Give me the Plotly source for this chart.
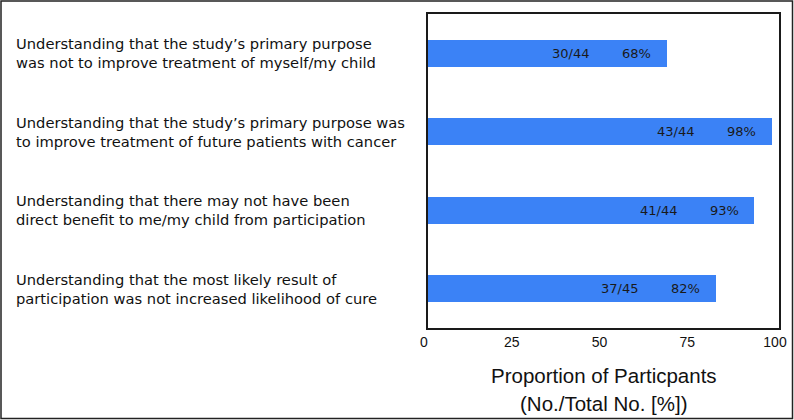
import plotly.graph_objects as go

categories = [
    "Understanding that the study’s primary purpose<br>was not to improve treatment of myself/my child",
    "Understanding that the study’s primary purpose was<br>to improve treatment of future patients with cancer",
    "Understanding that there may not have been<br>direct benefit to me/my child from participation",
    "Understanding that the most likely result of<br>participation was not increased likelihood of cure",
]
counts = ["30/44", "43/44", "41/44", "37/45"]
percents = [68, 98, 93, 82]
pct_labels = ["68%", "98%", "93%", "82%"]
x_ticks = [0, 25, 50, 75, 100]
x_title = ["Proportion of Particpants", "(No./Total No. [%])"]

W, H = 794, 420
L, R, T, B = 428, 15, 14, 92
PW = W - L - R
PH = H - T - B

BAR = "#3b82f6"
FONT = "Liberation Sans, Arial, Helvetica, sans-serif"
WIDE = "DejaVu Sans, Verdana, sans-serif"

fig = go.Figure()
fig.add_trace(go.Bar(
    y=categories, x=percents, orientation="h",
    marker=dict(color=BAR, line=dict(width=0)),
    width=0.35, hoverinfo="skip",
))

annotations = []
for cat, c, p, pl in zip(categories, counts, percents, pct_labels):
    annotations.append(dict(x=p, y=cat, xref="x", yref="y", text=c, showarrow=False,
                            xanchor="center", yanchor="middle", xshift=-96,
                            font=dict(size=13, color="#1a1a1a", family=WIDE)))
    annotations.append(dict(x=p, y=cat, xref="x", yref="y", text=pl, showarrow=False,
                            xanchor="center", yanchor="middle", xshift=-30,
                            font=dict(size=13, color="#1a1a1a", family=WIDE)))
    annotations.append(dict(x=(14 - L) / PW, y=cat, xref="paper", yref="y", text=cat,
                            showarrow=False, xanchor="left", yanchor="middle", align="left",
                            font=dict(size=14.7, color="#111111", family=WIDE)))

for line, ypx in zip(x_title, [375, 403]):
    annotations.append(dict(x=0.5, y=-(ypx - (T + PH)) / PH, xref="paper", yref="paper",
                            text=line, showarrow=False, xanchor="center", yanchor="middle",
                            font=dict(size=20.5, color="#111111", family=FONT)))

shapes = [dict(type="rect", xref="paper", yref="paper",
               x0=(1 - L) / PW, x1=(W - 1.5 - L) / PW,
               y0=-(H - 1.5 - T - PH) / PH, y1=(T + PH - 1) / PH,
               line=dict(color="#222222", width=1.5), fillcolor="rgba(0,0,0,0)", layer="above")]

fig.update_layout(
    width=W, height=H,
    margin=dict(l=L, r=R, t=T, b=B, autoexpand=False),
    paper_bgcolor="white", plot_bgcolor="white",
    showlegend=False,
    bargap=0,
    annotations=annotations,
    shapes=shapes,
    xaxis=dict(range=[0, 100], tickvals=x_ticks, ticktext=[str(v) for v in x_ticks],
               showgrid=False, zeroline=False, showline=True, mirror=True, automargin=False,
               linecolor="#1a1a1a", linewidth=2, ticks="", ticklabelshift=-4,
               tickfont=dict(size=14, color="#111111", family=FONT)),
    yaxis=dict(categoryorder="array", categoryarray=categories, autorange="reversed",
               showticklabels=False, showgrid=False, zeroline=False, showline=True,
               automargin=False,
               mirror=True, linecolor="#1a1a1a", linewidth=2, ticks=""),
    font=dict(family=FONT),
)

fig.write_html("out.html", config={"displayModeBar": False},
               post_script="document.body.style.margin='0';document.body.style.overflow='hidden';")
